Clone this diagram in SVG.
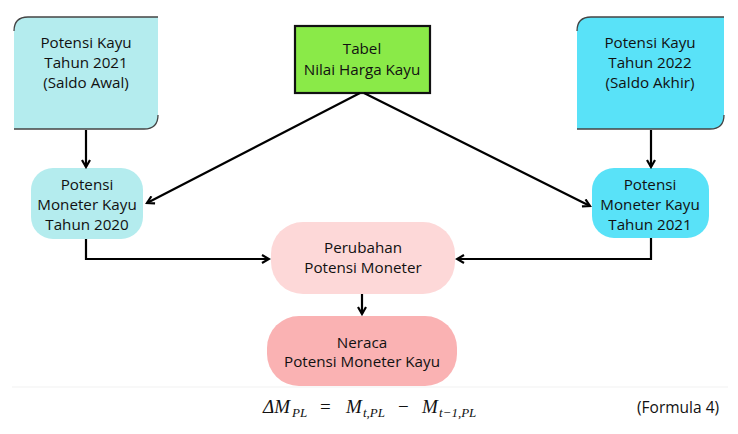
<svg xmlns="http://www.w3.org/2000/svg" width="738" height="434" viewBox="0 0 738 434">
<defs>
<marker id="ah" markerWidth="10" markerHeight="10" refX="8" refY="5" orient="auto" markerUnits="userSpaceOnUse">
<path d="M1,1 L8,5 L1,9" fill="none" stroke="#000" stroke-width="2.2" stroke-linejoin="miter"/>
</marker>
</defs>
<style>
.t{font-family:"Open Sans","Noto Sans","Liberation Sans",sans-serif;font-size:15.2px;fill:#111;text-anchor:middle}
.edge{fill:none;stroke:#444;stroke-width:1.3}
.c{fill:none;stroke:#000;stroke-width:2.2;marker-end:url(#ah)}
.f{font-family:"Liberation Serif","DejaVu Serif",serif;font-style:italic;font-size:19px;fill:#111}
.fs{font-family:"Liberation Serif","DejaVu Serif",serif;font-style:italic;font-size:13px;fill:#111}
.fo{font-family:"Liberation Serif","DejaVu Serif",serif;font-size:19px;fill:#111}
</style>
<rect width="738" height="434" fill="#fff"/>
<line x1="12" y1="387" x2="728" y2="387" stroke="#f8f8f8" stroke-width="2"/>
<g id="n-awal">
<path d="M14,31 Q14,17 28,17 L158,17 L158,115 Q158,129 144,129 L14,129 Z" fill="#b4ecee"/>
<path class="edge" d="M14,31 Q14,17 28,17 L158,17"/>
<path class="edge" d="M158,115 Q158,129 144,129 L14,129"/>
<text class="t" x="86" y="48">Potensi Kayu</text>
<text class="t" x="86" y="68">Tahun 2021</text>
<text class="t" x="86" y="88">(Saldo Awal)</text>
</g>
<g id="n-akhir">
<path d="M577,31 Q577,17 591,17 L724,17 L724,115 Q724,129 710,129 L577,129 Z" fill="#59e2f8"/>
<path class="edge" d="M577,31 Q577,17 591,17 L724,17"/>
<path class="edge" d="M724,115 Q724,129 710,129 L577,129"/>
<text class="t" x="650" y="48">Potensi Kayu</text>
<text class="t" x="650" y="68">Tahun 2022</text>
<text class="t" x="650" y="88">(Saldo Akhir)</text>
</g>
<g id="n-tabel">
<rect x="295" y="26" width="135" height="67" fill="#8aea48" stroke="#111" stroke-width="2.2"/>
<text class="t" x="362" y="54">Tabel</text>
<text class="t" x="362" y="75">Nilai Harga Kayu</text>
</g>
<g id="n-mon2020">
<rect x="31" y="168" width="112" height="71" rx="22" fill="#b4ecee"/>
<text class="t" x="87" y="190">Potensi</text>
<text class="t" x="87" y="210">Moneter Kayu</text>
<text class="t" x="87" y="230">Tahun 2020</text>
</g>
<g id="n-mon2021">
<rect x="592" y="168" width="117" height="70" rx="22" fill="#59e2f8"/>
<text class="t" x="650" y="190">Potensi</text>
<text class="t" x="650" y="210">Moneter Kayu</text>
<text class="t" x="650" y="230">Tahun 2021</text>
</g>
<g id="n-perubahan">
<rect x="271" y="222" width="184" height="72" rx="32" fill="#fdd8d8"/>
<text class="t" x="363" y="253">Perubahan</text>
<text class="t" x="363" y="273">Potensi Moneter</text>
</g>
<g id="n-neraca">
<rect x="267" y="316" width="190" height="70" rx="32" fill="#fab2b3"/>
<text class="t" x="362" y="348">Neraca</text>
<text class="t" x="362" y="367">Potensi Moneter Kayu</text>
</g>
<g id="connectors">
<line class="c" x1="86" y1="130" x2="86" y2="167"/>
<line class="c" x1="651" y1="130" x2="651" y2="167"/>
<line class="c" x1="360" y1="93" x2="147" y2="203"/>
<line class="c" x1="364" y1="93" x2="590" y2="206"/>
<polyline class="c" points="86,239 86,259 269,259"/>
<polyline class="c" points="651,238 651,259 457,259"/>
<line class="c" x1="362" y1="294" x2="362" y2="314"/>
</g>
<g id="formula">
<text class="f" x="263" y="413">ΔM</text>
<text class="fs" x="292" y="417">PL</text>
<text class="fo" x="320" y="413">=</text>
<text class="f" x="346" y="413">M</text>
<text class="fs" x="363" y="417">t,PL</text>
<text class="fo" x="398" y="413">−</text>
<text class="f" x="422" y="413">M</text>
<text class="fs" x="439" y="417">t−1,PL</text>
<text x="637" y="413" font-family="'Open Sans','Noto Sans',sans-serif" font-size="15.5px" fill="#111">(Formula 4)</text>
</g>
</svg>
